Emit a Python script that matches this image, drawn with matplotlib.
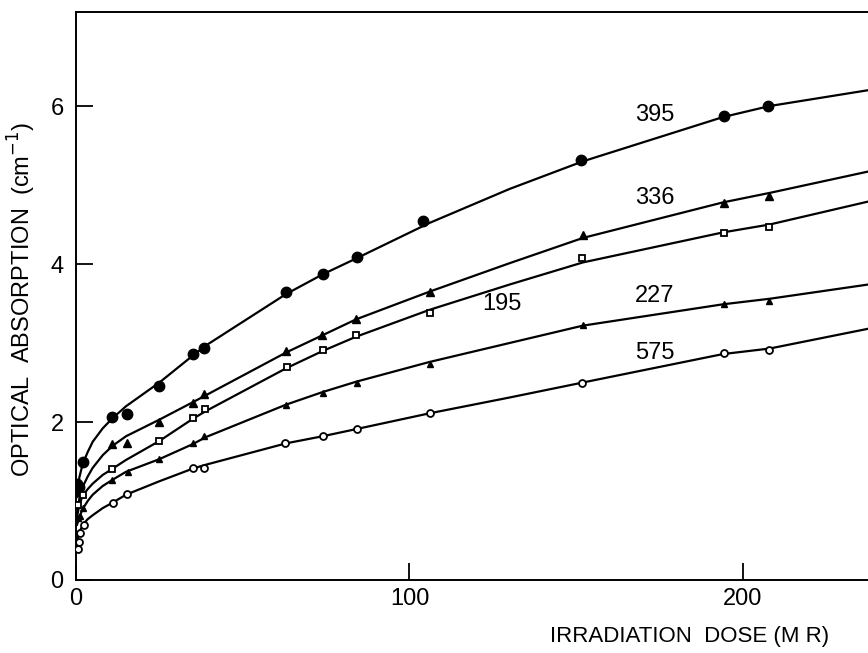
import matplotlib
matplotlib.use("Agg")
import matplotlib.pyplot as plt

plt.rcParams['font.family'] = ['Liberation Sans Narrow', 'Liberation Sans', 'DejaVu Sans']

# measured points (dose in MR, absorption in cm^-1), one set per wavelength label
x_395 = [0.3, 0.8, 2.2, 10.9, 15.2, 24.8, 35.0, 38.5, 63.0, 74.0, 84.2, 104.0, 151.5, 194.2, 207.6]
y_395 = [1.22, 1.18, 1.49, 2.06, 2.10, 2.46, 2.86, 2.94, 3.64, 3.87, 4.09, 4.55, 5.32, 5.87, 6.00]

x_336 = [0.5, 1.5, 10.9, 15.2, 24.9, 35.0, 38.5, 63.0, 73.8, 84.1, 106.1, 151.9, 194.4, 207.9]
y_336 = [1.15, 1.12, 1.72, 1.73, 2.00, 2.24, 2.36, 2.90, 3.10, 3.30, 3.64, 4.37, 4.77, 4.86]

x_195 = [0.5, 2.2, 10.9, 24.9, 35.0, 38.7, 63.3, 74.0, 84.1, 106.1, 151.8, 194.4, 207.9]
y_195 = [0.95, 1.07, 1.41, 1.76, 2.05, 2.16, 2.70, 2.91, 3.10, 3.38, 4.07, 4.39, 4.47]

x_227 = [0.5, 1.2, 2.2, 10.9, 15.5, 25.0, 35.0, 38.5, 63.0, 74.0, 84.3, 106.1, 151.9, 194.4, 207.9]
y_227 = [0.78, 0.81, 0.91, 1.27, 1.37, 1.53, 1.73, 1.82, 2.21, 2.37, 2.50, 2.74, 3.23, 3.49, 3.53]

x_575 = [0.7, 0.9, 1.2, 2.4, 11.2, 15.4, 35.2, 38.5, 62.8, 74.0, 84.3, 106.1, 151.6, 194.4, 207.9]
y_575 = [0.39, 0.48, 0.60, 0.70, 0.98, 1.09, 1.42, 1.42, 1.73, 1.82, 1.91, 2.11, 2.49, 2.87, 2.91]

# drawn fit curves
cx = [0.3, 1, 2, 3.5, 5, 8, 11, 15, 25, 35, 39, 63, 74, 84, 106, 130, 152, 194, 208, 237.5]
c_395 = [1.05, 1.30, 1.47, 1.62, 1.75, 1.92, 2.05, 2.20, 2.50, 2.84, 2.97, 3.62, 3.87, 4.07, 4.52, 4.95, 5.30, 5.86, 6.00, 6.20]
c_336 = [0.85, 1.03, 1.18, 1.31, 1.42, 1.58, 1.70, 1.82, 2.03, 2.25, 2.34, 2.88, 3.10, 3.30, 3.65, 4.01, 4.33, 4.78, 4.90, 5.17]
c_195 = [0.80, 0.95, 1.07, 1.15, 1.22, 1.33, 1.41, 1.52, 1.76, 2.04, 2.14, 2.68, 2.90, 3.08, 3.42, 3.74, 4.02, 4.40, 4.50, 4.79]
c_227 = [0.70, 0.80, 0.90, 1.00, 1.08, 1.19, 1.27, 1.37, 1.53, 1.72, 1.81, 2.22, 2.38, 2.51, 2.76, 3.00, 3.22, 3.49, 3.56, 3.74]
c_575 = [0.50, 0.60, 0.70, 0.77, 0.82, 0.91, 0.98, 1.08, 1.25, 1.41, 1.46, 1.73, 1.82, 1.91, 2.11, 2.31, 2.50, 2.86, 2.93, 3.18]

labels = ['395', '336', '195', '227', '575']
label_pos = [(173.6, 5.89), (173.6, 4.84), (127.6, 3.50), (173.6, 3.59), (173.6, 2.87)]

fig = plt.figure(figsize=(8.68, 6.53), dpi=100)
ax = fig.add_axes([0.0876, 0.1118, 0.9124, 0.8698])

for c in [c_395, c_336, c_195, c_227, c_575]:
    ax.plot(cx, c, color='black', lw=1.6, zorder=2)

ax.plot(x_395, y_395, 'o', color='black', ms=7.5, zorder=3)
ax.plot(x_336, y_336, '^', color='black', ms=6, zorder=3)
ax.plot(x_195, y_195, 's', mfc='white', mec='black', mew=1.3, ms=4.5, zorder=3)
ax.plot(x_227, y_227, '^', color='black', ms=4.5, zorder=3)
ax.plot(x_575, y_575, 'o', mfc='white', mec='black', mew=1.3, ms=5, zorder=3)

for lab, (tx, ty) in zip(labels, label_pos):
    ax.text(tx, ty, lab, fontsize=17, ha='center', va='center')

ax.set_xlim(0, 237.5)
ax.set_ylim(0, 7.19)
ax.set_xticks([0, 100, 200])
ax.set_yticks([0, 2, 4, 6])
ax.tick_params(direction='in', length=12, width=1.3, labelsize=17)
ax.tick_params(axis='x', pad=6)
ax.tick_params(axis='y', pad=9)
ax.spines['right'].set_visible(False)
for s in ['left', 'bottom', 'top']:
    ax.spines[s].set_linewidth(1.4)

ax.set_xlabel('IRRADIATION  DOSE (M R)', fontsize=16)
ax.xaxis.set_label_coords(0.775, -0.100)
ax.xaxis.label.set_va('center')
ax.set_ylabel('OPTICAL  ABSORPTION  (cm$^{-1}$)', fontsize=17)
ax.yaxis.set_label_coords(-0.068, 0.495)
ax.yaxis.label.set_va('center')

fig.savefig('out.png', dpi=100)
